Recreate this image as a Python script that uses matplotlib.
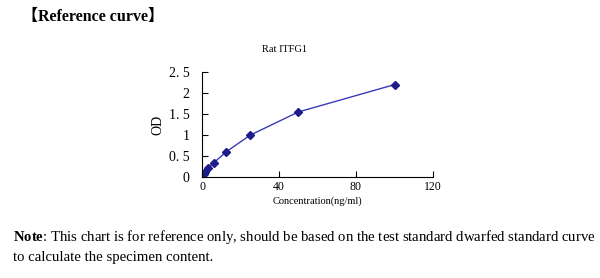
import matplotlib
matplotlib.use("Agg")
import matplotlib.pyplot as plt

conc = [0, 0.78, 1.56, 3.12, 6.25, 12.5, 25, 50, 100]
od = [0.03, 0.08, 0.13, 0.22, 0.345, 0.60, 1.00, 1.555, 2.21]
yticks = [0, 0.5, 1, 1.5, 2, 2.5]
yticklabels = ['0', '0. 5', '1', '1. 5', '2', '2. 5']
xticks = [0, 40, 80, 120]

serif = ['Liberation Serif', 'Noto Sans CJK SC', 'DejaVu Sans']
plt.rcParams['font.family'] = serif
plt.rcParams['mathtext.fontset'] = 'custom'
plt.rcParams['mathtext.rm'] = 'Liberation Serif'
plt.rcParams['mathtext.bf'] = 'Liberation Serif:bold'

fig = plt.figure(figsize=(6, 2.78), dpi=100)
ax = fig.add_axes([202 / 600, 101 / 278, 231 / 600, 104.5 / 278])

ax.plot(conc, od, color='#3a3ab8', linewidth=1.0)
ax.plot(conc, od, linestyle='none', marker='D', markersize=4,
        color='#1c1c8a')

ax.set_xlim(0, 120)
ax.set_ylim(0, 2.5)
ax.set_xticks(xticks)
ax.set_yticks(yticks)
ax.set_yticklabels(yticklabels)
for s in ['top', 'right']:
    ax.spines[s].set_visible(False)
for s in ['left', 'bottom']:
    ax.spines[s].set_linewidth(0.8)
ax.tick_params(axis='y', direction='in', length=4, width=0.8, labelsize=10, pad=9)
ax.tick_params(axis='x', direction='in', length=4, width=0.8, labelsize=8.5, pad=3)

ax.set_xlabel('Concentration(ng/ml)', fontsize=7.5, labelpad=2)
ax.set_ylabel('OD', fontsize=10, labelpad=3)

fig.text(284 / 600, 1 - 50 / 278, 'Rat ITFG1', fontsize=7.5, ha='center', va='center')
fig.text(22 / 600, 1 - 17 / 278, '【Reference curve】', fontsize=11.5,
         fontweight='bold', ha='left', va='center')
fig.text(13 / 600, 1 - 237 / 278,
         r'$\mathbf{Note}$: This chart is for reference only, should be based on the test standard dwarfed standard curve',
         fontsize=10.6, ha='left', va='center')
fig.text(13 / 600, 1 - 258 / 278, 'to calculate the specimen content.',
         fontsize=10.6, ha='left', va='center')

plt.savefig('out.png', dpi=100)
